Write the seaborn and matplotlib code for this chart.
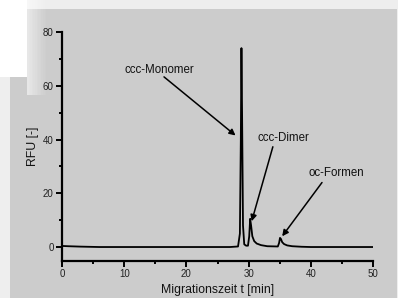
import matplotlib
matplotlib.use("Agg")
import matplotlib.pyplot as plt
from matplotlib.patches import Rectangle
from matplotlib.ticker import MultipleLocator
import seaborn as sns

# electropherogram
time_min = [0, 1, 3, 6, 10, 20, 27, 28.3, 28.6, 28.75, 28.85, 28.95, 29.1, 29.3, 29.6,
            29.9, 30.1, 30.25, 30.4, 30.6, 30.9, 31.3, 32, 33, 34.7, 34.9, 35.05, 35.2,
            35.4, 35.7, 36.2, 37, 38.5, 40, 45, 50]
rfu = [0.4, 0.3, 0.15, 0, 0, 0, 0, 0.2, 5, 40, 74, 50, 8, 1, 0.5,
       0.5, 4, 10.5, 8, 4, 2.2, 1.3, 0.7, 0.3, 0.2, 1.5, 3.4, 3.0,
       1.8, 1.1, 0.6, 0.3, 0.1, 0, 0, 0]

peak_labels = ["ccc-Monomer", "ccc-Dimer", "oc-Formen"]
label_pos = [(10.1, 65.8), (31.4, 40.5), (39.7, 27.4)]
arrow_tail = [(16.4, 63.3), (33.9, 37.3), (41.8, 24.0)]
arrow_head = [(27.9, 41.5), (30.5, 9.6), (35.4, 4.0)]

sns.set_theme(style="ticks")
plt.rcParams["font.family"] = ["Liberation Sans", "DejaVu Sans"]

fig = plt.figure(figsize=(3.98, 2.98), dpi=100)
fig.patch.set_facecolor("#eeeeee")

W, H = 398.0, 298.0
def px_rect(x0, y0, x1, y1, **kw):
    # rectangle in figure pixels, y from the top
    fig.add_artist(Rectangle((x0 / W, 1 - y1 / H), (x1 - x0) / W, (y1 - y0) / H,
                             transform=fig.transFigure, lw=0, zorder=-5, **kw))

px_rect(10, 9, 397, 298, facecolor="#cccccc")
# soft shadow of the small white panel in the corner
for i in range(12):
    px_rect(27 + i * 1.6, 0, 27 + (i + 1) * 1.6, 95, facecolor="white", alpha=0.55 * (1 - i / 12))
px_rect(0, 0, 27, 77, facecolor="white")

ax = fig.add_axes([62 / W, 1 - 261 / H, (373 - 62) / W, (261 - 32) / H])
ax.set_facecolor("none")
sns.lineplot(x=time_min, y=rfu, ax=ax, color="black", lw=1.3)

ax.set_xlim(0, 50)
ax.set_ylim(-5.2, 80)
ax.xaxis.set_major_locator(MultipleLocator(10))
ax.xaxis.set_minor_locator(MultipleLocator(5))
ax.yaxis.set_major_locator(MultipleLocator(20))
ax.yaxis.set_minor_locator(MultipleLocator(10))
ax.tick_params(which="major", length=4, width=1.4, labelsize=7, colors="black",
               labelcolor="#222222", pad=2)
ax.tick_params(which="minor", length=2, width=1.4, colors="black")
for side in ["top", "right"]:
    ax.spines[side].set_visible(False)
for side in ["left", "bottom"]:
    ax.spines[side].set_linewidth(1.6)
    ax.spines[side].set_color("black")

ax.set_xlabel("Migrationszeit t [min]", fontsize=8.8, color="#111111", labelpad=3)
ax.set_ylabel("RFU [-]", fontsize=8.8, color="#111111", labelpad=3)

for name, lp, tail, head in zip(peak_labels, label_pos, arrow_tail, arrow_head):
    ax.text(lp[0], lp[1], name, fontsize=8.3, color="#111111", va="center", ha="left")
    ax.annotate("", xy=head, xytext=tail,
                arrowprops=dict(arrowstyle="-|>", color="black", lw=1.1,
                                mutation_scale=9, shrinkA=0, shrinkB=0))

fig.savefig("out.png", dpi=100, facecolor=fig.get_facecolor())
